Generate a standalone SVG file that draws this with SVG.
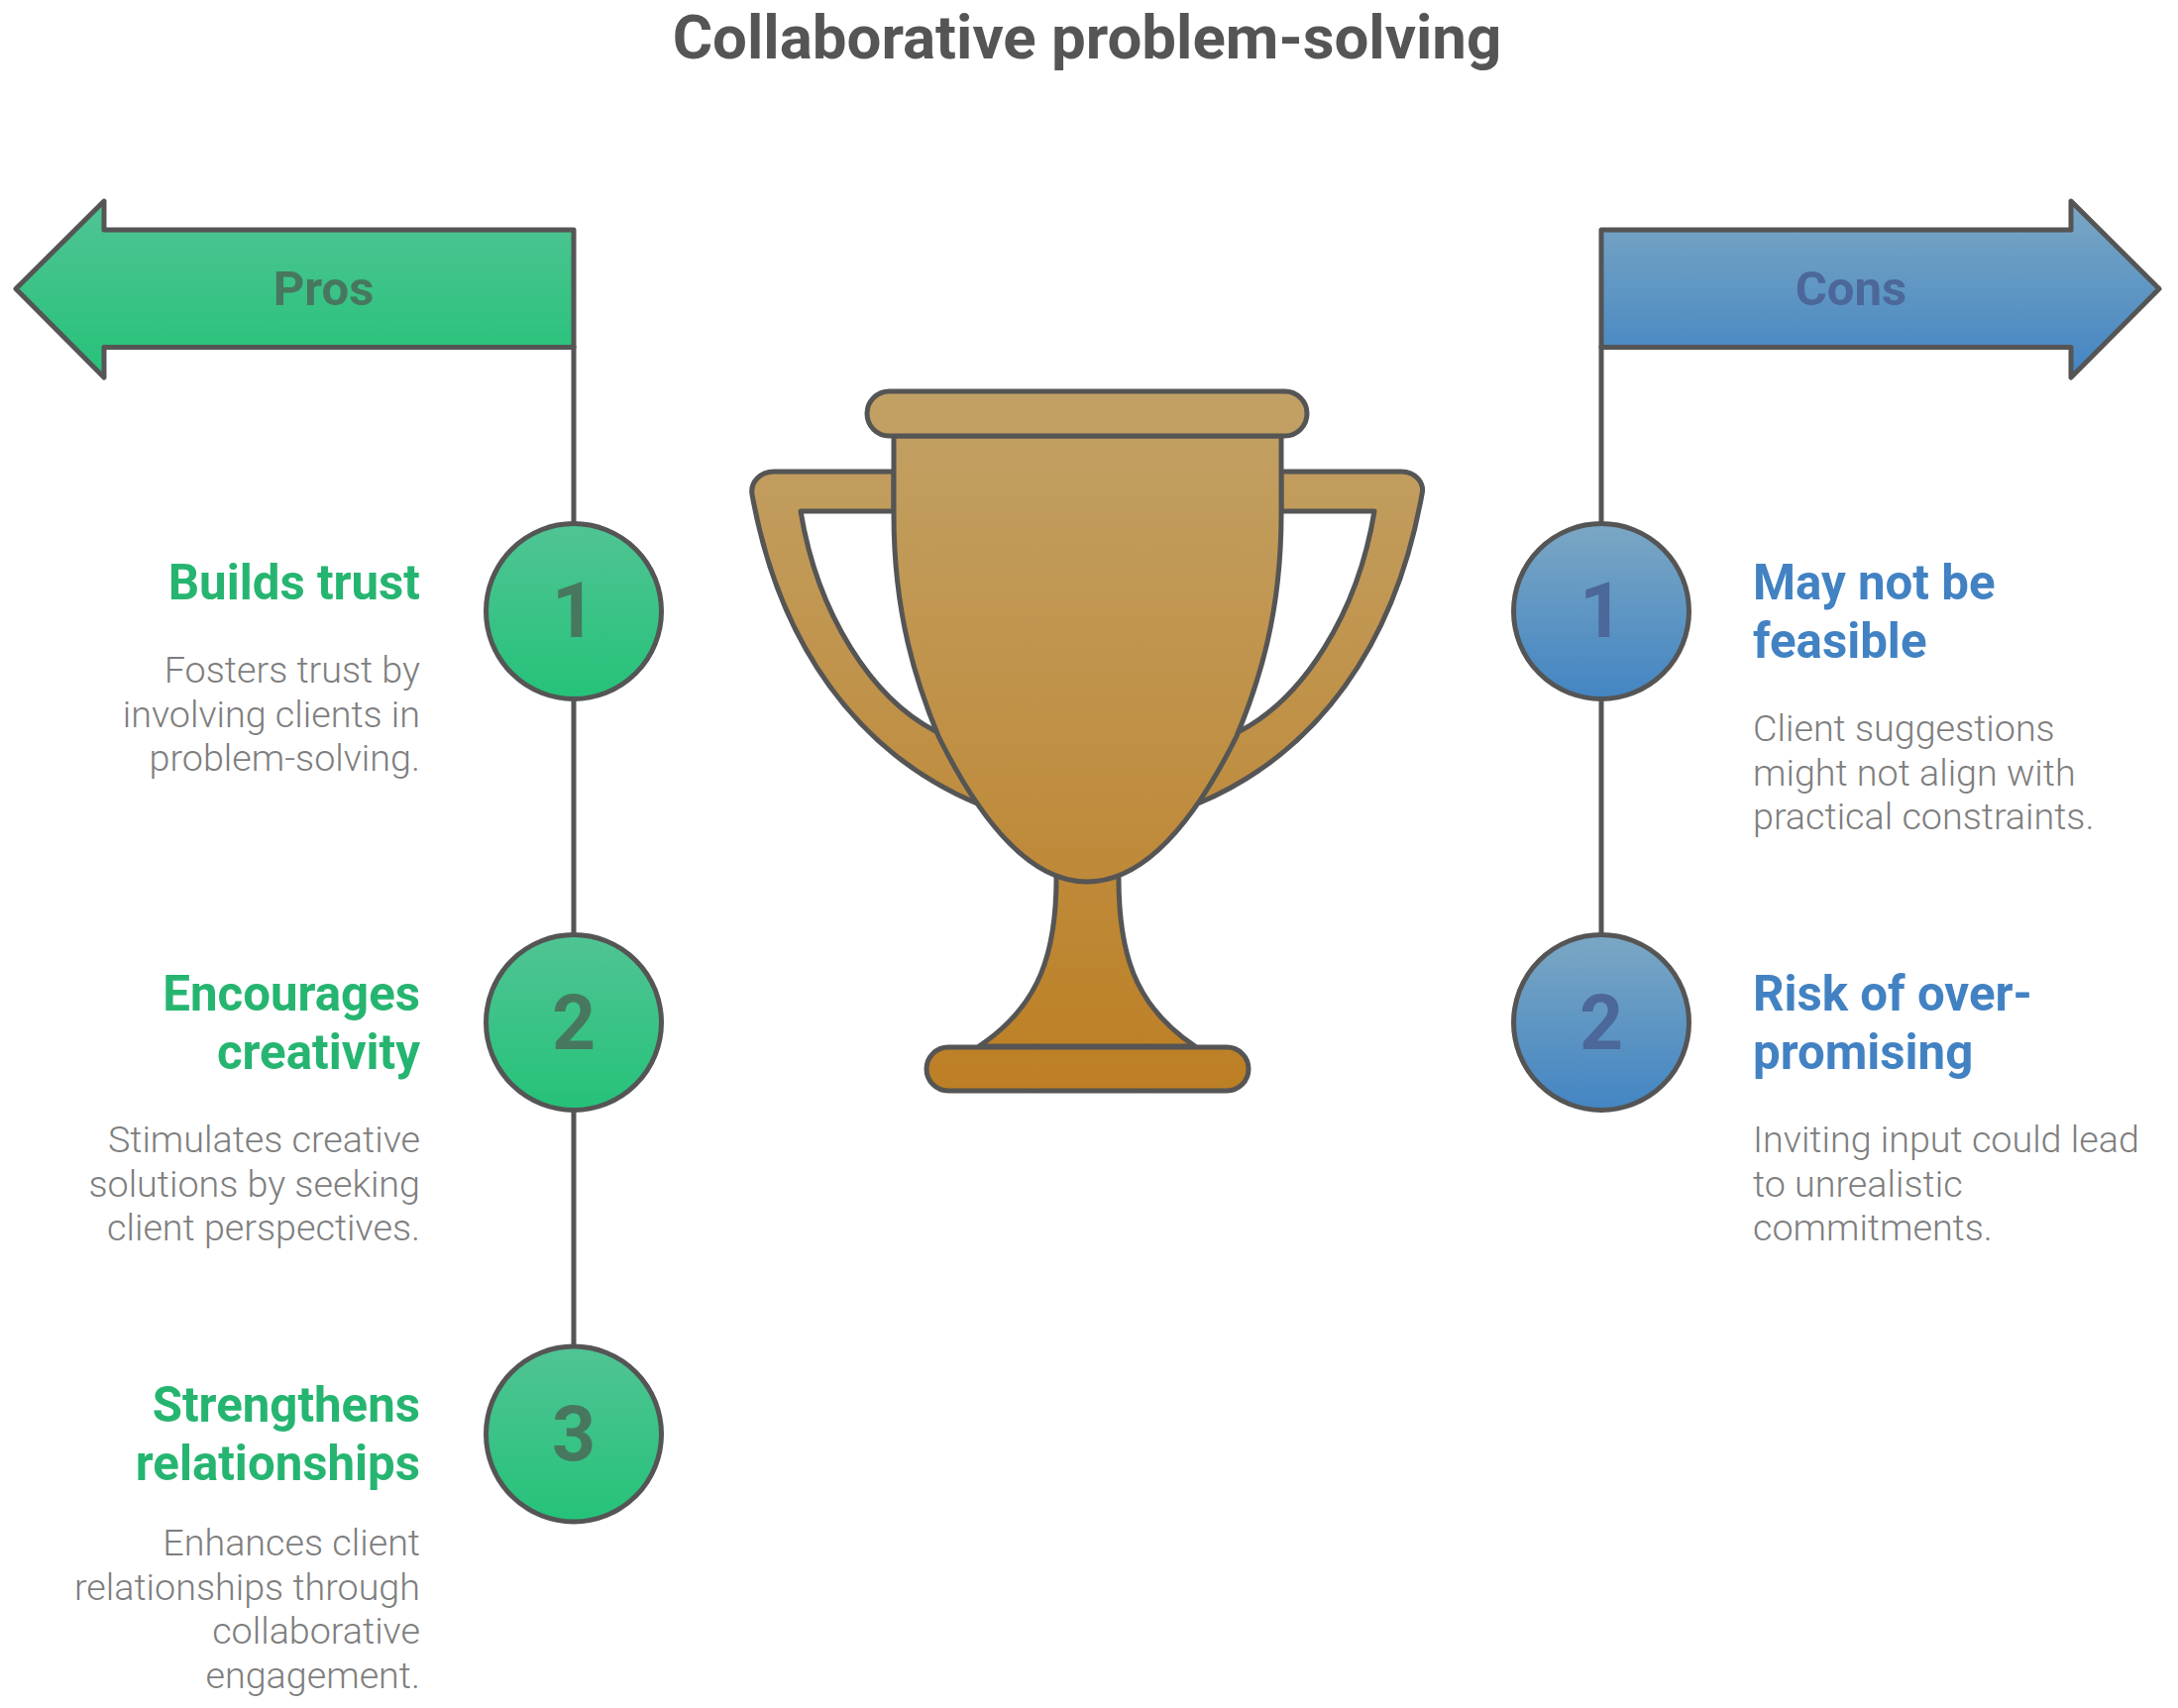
<svg xmlns="http://www.w3.org/2000/svg" width="2198" height="1724" viewBox="0 0 2198 1724">
<style>
text{font-family:Roboto,"Liberation Sans",sans-serif}
.t{font-size:61.800px;font-weight:700;fill:#555;text-anchor:middle}
.s{stroke:#555;stroke-width:5;stroke-linejoin:round;stroke-linecap:round}
.n{font-size:77px;font-weight:700;text-anchor:middle}
.a{font-size:49px;font-weight:700;text-anchor:middle}
.ng{fill:#47785f}
.nb{fill:#4c6799}
.hg{font-size:49.200px;font-weight:700;fill:#26b571;text-anchor:end}
.hb{font-size:49.200px;font-weight:700;fill:#4282c3}
.dl{font-size:37.700px;font-weight:300;fill:#7e7e7e;text-anchor:end}
.dr{font-size:37.700px;font-weight:300;fill:#7e7e7e}
</style>
<defs>
<linearGradient id="gg" x1="0" y1="0" x2="0" y2="1"><stop offset="0" stop-color="#50c494"/><stop offset="1" stop-color="#25c279"/></linearGradient>
<linearGradient id="gb" x1="0" y1="0" x2="0" y2="1"><stop offset="0" stop-color="#7ba7c4"/><stop offset="1" stop-color="#4385c3"/></linearGradient>
<linearGradient id="gt" gradientUnits="userSpaceOnUse" x1="0" y1="393" x2="0" y2="1101"><stop offset="0" stop-color="#c2a166"/><stop offset="1" stop-color="#bd7f24"/></linearGradient>
</defs>
<g id="title"><text class="t" x="1097" y="59">Collaborative problem-solving</text></g>
<g id="connectors" fill="none" class="s">
<path d="M579 350V1447"/>
<path d="M1616 350V1031"/>
</g>
<g id="pros-arrow"><path class="s" fill="url(#gg)" d="M579 232H105V203L16 291.500L105 381V350.500H579Z"/><text class="a ng" x="326.500" y="308">Pros</text></g>
<g id="cons-arrow"><path class="s" fill="url(#gb)" d="M1616 232H2090V203L2179 291.500L2090 381V350.500H1616Z"/><text class="a nb" x="1868" y="308">Cons</text></g>
<g id="trophy" fill="url(#gt)" class="s">
<path id="handle-left" fill-rule="evenodd" d="M902 476H781C767 476 757 487 759 499C786 650 865 760 986 811L1000 760L944 738C880 705 825 620 808 516H902Z"/>
<path id="handle-right" fill-rule="evenodd" d="M1293 476H1414C1428 476 1438 487 1435 499C1408 650 1330 760 1209 811L1195 760L1251 738C1315 705 1370 620 1387 516H1293Z"/>
<path id="stem" d="M1066 880C1067 960 1050 1015 988 1056H1206C1144 1015 1128 960 1129 880Z"/>
<path id="cup" d="M902 440V520C902 620 925 690 947 743C990 830 1040 890 1097 890C1154 890 1205 830 1248 743C1270 690 1293 620 1293 520V440Z"/>
<rect id="cap" x="875" y="395" width="444" height="45" rx="22.500"/>
<rect id="base" x="935" y="1057" width="325" height="44" rx="22"/>
</g>
<g id="pro-1"><circle class="s" cx="579" cy="617" r="88.500" fill="url(#gg)"/><text class="n ng" x="579" y="643">1</text><text class="hg" x="424" y="605">Builds trust</text><text class="dl" x="424" y="689">Fosters trust by</text><text class="dl" x="424" y="733.500">involving clients in</text><text class="dl" x="424" y="778">problem-solving.</text></g>
<g id="pro-2"><circle class="s" cx="579" cy="1032" r="88.500" fill="url(#gg)"/><text class="n ng" x="579" y="1058.500">2</text><text class="hg" x="424" y="1019.500">Encourages</text><text class="hg" x="424" y="1078.500">creativity</text><text class="dl" x="424" y="1163">Stimulates creative</text><text class="dl" x="424" y="1207.500">solutions by seeking</text><text class="dl" x="424" y="1252">client perspectives.</text></g>
<g id="pro-3"><circle class="s" cx="579" cy="1447.500" r="88.500" fill="url(#gg)"/><text class="n ng" x="579" y="1474">3</text><text class="hg" x="424" y="1434.500">Strengthens</text><text class="hg" x="424" y="1493.500">relationships</text><text class="dl" x="424" y="1570">Enhances client</text><text class="dl" x="424" y="1614.500">relationships through</text><text class="dl" x="424" y="1659">collaborative</text><text class="dl" x="424" y="1703.500">engagement.</text></g>
<g id="con-1"><circle class="s" cx="1616" cy="617" r="88.500" fill="url(#gb)"/><text class="n nb" x="1616" y="643">1</text><text class="hb" x="1769" y="605">May not be</text><text class="hb" x="1769" y="664">feasible</text><text class="dr" x="1769" y="748">Client suggestions</text><text class="dr" x="1769" y="792.500">might not align with</text><text class="dr" x="1769" y="837">practical constraints.</text></g>
<g id="con-2"><circle class="s" cx="1616" cy="1032" r="88.500" fill="url(#gb)"/><text class="n nb" x="1616" y="1058.500">2</text><text class="hb" x="1769" y="1019.500">Risk of over-</text><text class="hb" x="1769" y="1078.500">promising</text><text class="dr" x="1769" y="1163">Inviting input could lead</text><text class="dr" x="1769" y="1207.500">to unrealistic</text><text class="dr" x="1769" y="1252">commitments.</text></g>
</svg>
